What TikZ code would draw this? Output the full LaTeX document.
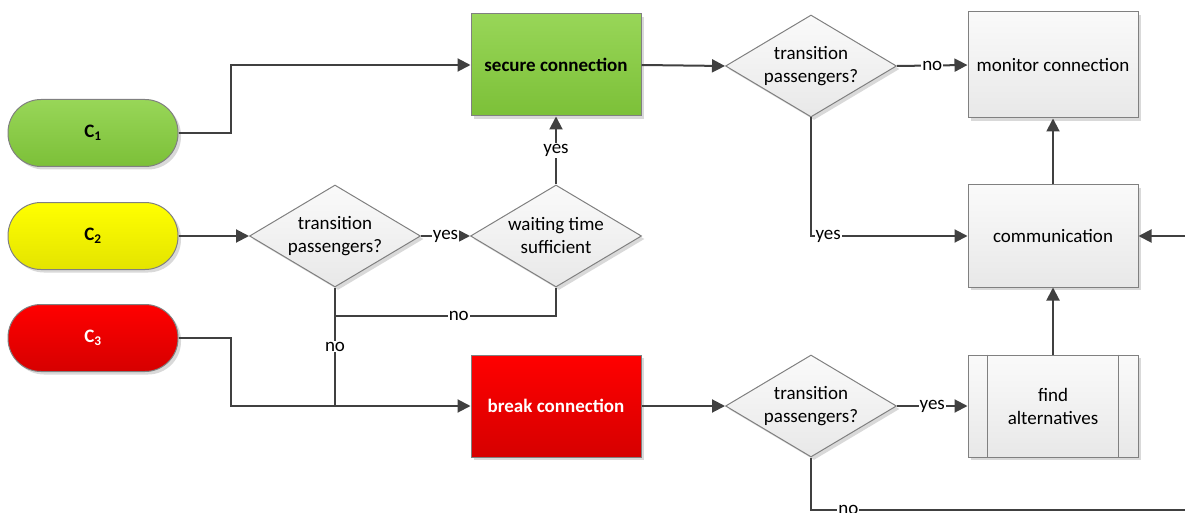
\documentclass[tikz,border=0pt]{standalone}
\usepackage{fontspec}
\setmainfont{Carlito}
\usetikzlibrary{shapes.geometric,arrows.meta,shadows}
\definecolor{greentop}{RGB}{152,214,88}
\definecolor{greenbot}{RGB}{124,192,56}
\definecolor{yellowtop}{RGB}{255,255,0}
\definecolor{yellowbot}{RGB}{228,228,0}
\definecolor{redtop}{RGB}{255,0,0}
\definecolor{redbot}{RGB}{214,0,0}
\definecolor{greytop}{RGB}{250,250,250}
\definecolor{greybot}{RGB}{232,232,232}
\definecolor{edgegrey}{RGB}{128,128,128}
\definecolor{linegrey}{RGB}{64,64,64}
\tikzset{
  base/.style={draw=edgegrey,line width=1pt,align=center,font=\fontsize{19}{23}\selectfont,
    drop shadow={shadow xshift=3pt,shadow yshift=-3pt,opacity=0.15,fill=black}},
  term/.style={base,rectangle,rounded corners=33pt,minimum width=170pt,minimum height=67pt,
    font=\fontsize{19}{23}\selectfont\bfseries},
  proc/.style={base,rectangle,minimum width=170pt,minimum height=102pt,top color=greytop,bottom color=greybot},
  decision/.style={base,diamond,aspect=1.67,minimum width=171pt,minimum height=102pt,inner sep=0pt,
    top color=greytop,bottom color=greybot},
  conn/.style={draw=linegrey,line width=2pt},
  flow/.style={conn,-{Triangle[length=13pt,width=13pt]}},
  lbl/.style={fill=white,inner sep=1pt,font=\fontsize{19}{23}\selectfont}
}
\begin{document}
\begin{tikzpicture}[x=1pt,y=-1pt]
\useasboundingbox (0,0) rectangle (1185,513);
\node (c1) at (93,133) [term,top color=greentop,bottom color=greenbot] {C\textsubscript{1}};
\node (c2) at (93,236) [term,top color=yellowtop,bottom color=yellowbot] {C\textsubscript{2}};
\node (c3) at (93,338) [term,top color=redtop,bottom color=redbot,text=white] {C\textsubscript{3}};
\node (secure) at (556,65) [proc,top color=greentop,bottom color=greenbot,font=\fontsize{19}{23}\selectfont\bfseries] {secure connection};
\node (break) at (556,406) [proc,top color=redtop,bottom color=redbot,text=white,font=\fontsize{19}{23}\selectfont\bfseries] {break connection};
\node (trans1) at (811,66) [decision] {transition\\passengers?};
\node (trans2) at (335,236) [decision] {transition\\passengers?};
\node (wait) at (556,236) [decision] {waiting time\\sufficient};
\node (trans3) at (811,406) [decision] {transition\\passengers?};
\node (monitor) at (1053,65) [proc,minimum height=106pt] {monitor connection};
\node (comm) at (1053,236) [proc] {communication};
\node (alt) at (1053,406) [proc] {find\\alternatives};
\draw[draw=edgegrey,line width=1pt] ([xshift=20pt]alt.north west) -- ([xshift=20pt]alt.south west);
\draw[draw=edgegrey,line width=1pt] ([xshift=-20pt]alt.north east) -- ([xshift=-20pt]alt.south east);
\coordinate (rightin) at (1185,236);
\coordinate (rightout) at (1185,510);
\draw[flow] (c1.east) -- ++(52,0) |- (secure.west);
\draw[flow] (secure.east) -- (trans1.west);
\draw[flow] (trans1.east) -- node[lbl] {no} (monitor.west);
\draw[flow] (trans1.south) |- node[lbl,pos=0.555] {yes} (comm.west);
\draw[flow] (comm.north) -- (monitor.south);
\draw[flow] (alt.north) -- (comm.south);
\draw[flow] (rightin) -- (comm.east);
\draw[flow] (c2.east) -- (trans2.west);
\draw[flow] (trans2.east) -- node[lbl] {yes} (wait.west);
\draw[flow] (wait.north) -- node[lbl] {yes} (secure.south);
\draw[conn] (wait.south) -- ++(0,28) -| node[lbl,pos=0.22] {no} (trans2.south);
\draw[conn] (trans2.south) -- node[lbl] {no} (trans2.south |- break.west);
\draw[flow] (c3.east) -- ++(52,0) |- (break.west);
\draw[flow] (break.east) -- (trans3.west);
\draw[flow] (trans3.east) -- node[lbl] {yes} (alt.west);
\draw[conn] (trans3.south) |- node[lbl,pos=0.55] {no} (rightout);
\end{tikzpicture}
\end{document}
